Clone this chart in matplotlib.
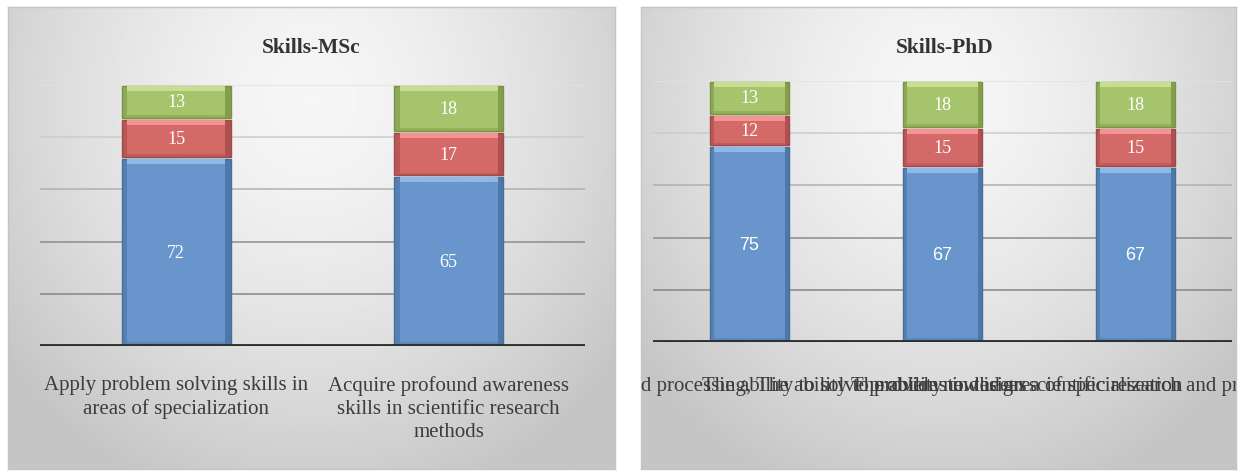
import matplotlib.pyplot as plt
import numpy as np

# MSc skills
msc_labels = ["Apply problem solving skills in\nareas of specialization",
              "Acquire profound awareness\nskills in scientific research\nmethods"]
msc_blue = [72, 65]
msc_red = [15, 17]
msc_green = [13, 18]

# PhD skills
phd_labels = ["Skills of analysis and processing, The ability to provide new ideas",
              "The ability to solve problems in the area of specialization",
              "The ability to design scientific research and professional knowledge"]
phd_blue = [75, 67, 67]
phd_red = [12, 15, 15]
phd_green = [13, 18, 18]

W, H = 1238, 477
fig = plt.figure(figsize=(W / 100, H / 100), dpi=100)
fig.patch.set_facecolor('white')

colors = {'blue': ('#6896cc', '#8fb8ea', '#456f9e'),
          'red': ('#d46a68', '#f29494', '#a04a48'),
          'green': ('#a6c46c', '#c6de92', '#7a9244')}
grid_cols = ['#858585', '#8c8c8c', '#b0b0b0', '#cccccc', '#e2e2e2']


def px_axes(x0, y0, x1, y1):
    # pixel box (left, top, right, bottom) -> figure axes
    return fig.add_axes([x0 / W, (H - y1) / H, (x1 - x0) / W, (y1 - y0) / H])


def background(x0, y0, x1, y1):
    ax = px_axes(x0, y0, x1, y1)
    yy, xx = np.mgrid[0:1:200j, 0:1:200j]
    d = np.sqrt(((xx - 0.5) / 0.7) ** 2 + ((yy - 0.2) / 1.0) ** 2)
    img = np.clip(0.965 - 0.22 * d ** 1.5, 0.77, 1)
    ax.imshow(img, cmap='gray', vmin=0, vmax=1, aspect='auto', extent=[0, 1, 1, 0])
    ax.set_xticks([])
    ax.set_yticks([])
    for s in ax.spines.values():
        s.set_color('#c4c4c4')
        s.set_linewidth(1)
    return ax


def draw_stack(ax, blue, red, green, width, blue_font):
    x = np.arange(len(blue))
    bottom = np.zeros(len(blue))
    side = width * 0.05
    for name, vals in [('blue', blue), ('red', red), ('green', green)]:
        vals = np.array(vals, dtype=float)
        face, light, dark = colors[name]
        h = vals - 0.8
        b0 = bottom + 0.4
        ax.bar(x, h, bottom=b0, width=width, color=face,
               edgecolor=dark, linewidth=1.0, zorder=3)
        # bevel: dark sides, light top, darker bottom rim
        ax.bar(x - width / 2 + side / 2, h, bottom=b0, width=side, color=dark,
               alpha=0.55, linewidth=0, zorder=4)
        ax.bar(x + width / 2 - side / 2, h, bottom=b0, width=side, color=dark,
               alpha=0.75, linewidth=0, zorder=4)
        ax.bar(x, 1.8, bottom=b0 + h - 1.8, width=width - 2 * side, color=light,
               linewidth=0, zorder=4)
        ax.bar(x, 1.0, bottom=b0, width=width - 2 * side, color=dark,
               alpha=0.4, linewidth=0, zorder=4)
        for xi, b, v in zip(x, bottom, vals):
            fam = blue_font if name == 'blue' else 'Liberation Serif'
            ax.text(xi, b + v / 2, f"{v:.0f}", ha='center', va='center', color='white',
                    fontsize=13, family=fam, zorder=5)
        bottom = bottom + vals


def setup_axes(ax, n):
    ax.set_xlim(-0.5, n - 0.5)
    ax.set_ylim(0, 100)
    ax.patch.set_alpha(0)
    for yv, c in zip([20, 40, 60, 80, 100], grid_cols):
        ax.axhline(yv, color=c, linewidth=1.1, zorder=1)
    ax.axhline(0, color='#2e2e2e', linewidth=3.5, zorder=6)
    ax.set_xticks([])
    ax.set_yticks([])
    for s in ax.spines.values():
        s.set_visible(False)


# left panel
bg1 = background(8, 8, 615, 470)
bg1.text(0.5, 0.913, "Skills-MSc", transform=bg1.transAxes, ha='center', va='center',
         fontsize=15.5, weight='bold', family='Liberation Serif', color='#333333')
ax1 = px_axes(40, 86, 585, 347)
setup_axes(ax1, len(msc_blue))
draw_stack(ax1, msc_blue, msc_red, msc_green, 0.4, 'Liberation Serif')
for i, lab in enumerate(msc_labels):
    ax1.text(i, -0.11, lab, transform=ax1.get_xaxis_transform(), ha='center', va='top',
             fontsize=15, family='Liberation Serif', color='#3c3c3c', linespacing=1.3)

# right panel
bg2 = background(641, 8, 1236, 470)
bg2.text(0.51, 0.913, "Skills-PhD", transform=bg2.transAxes, ha='center', va='center',
         fontsize=15.5, weight='bold', family='Liberation Serif', color='#333333')
ax2 = px_axes(653, 82, 1232, 343)
setup_axes(ax2, len(phd_blue))
draw_stack(ax2, phd_blue, phd_red, phd_green, 0.41, 'Liberation Sans')
for i, lab in enumerate(phd_labels):
    t = ax2.text(i, -0.125, lab, transform=ax2.get_xaxis_transform(), ha='center', va='top',
                 fontsize=15, family='Liberation Serif', color='#3c3c3c', clip_on=True)
    t.set_clip_box(bg2.bbox)

fig.savefig('out.png', dpi=100)
